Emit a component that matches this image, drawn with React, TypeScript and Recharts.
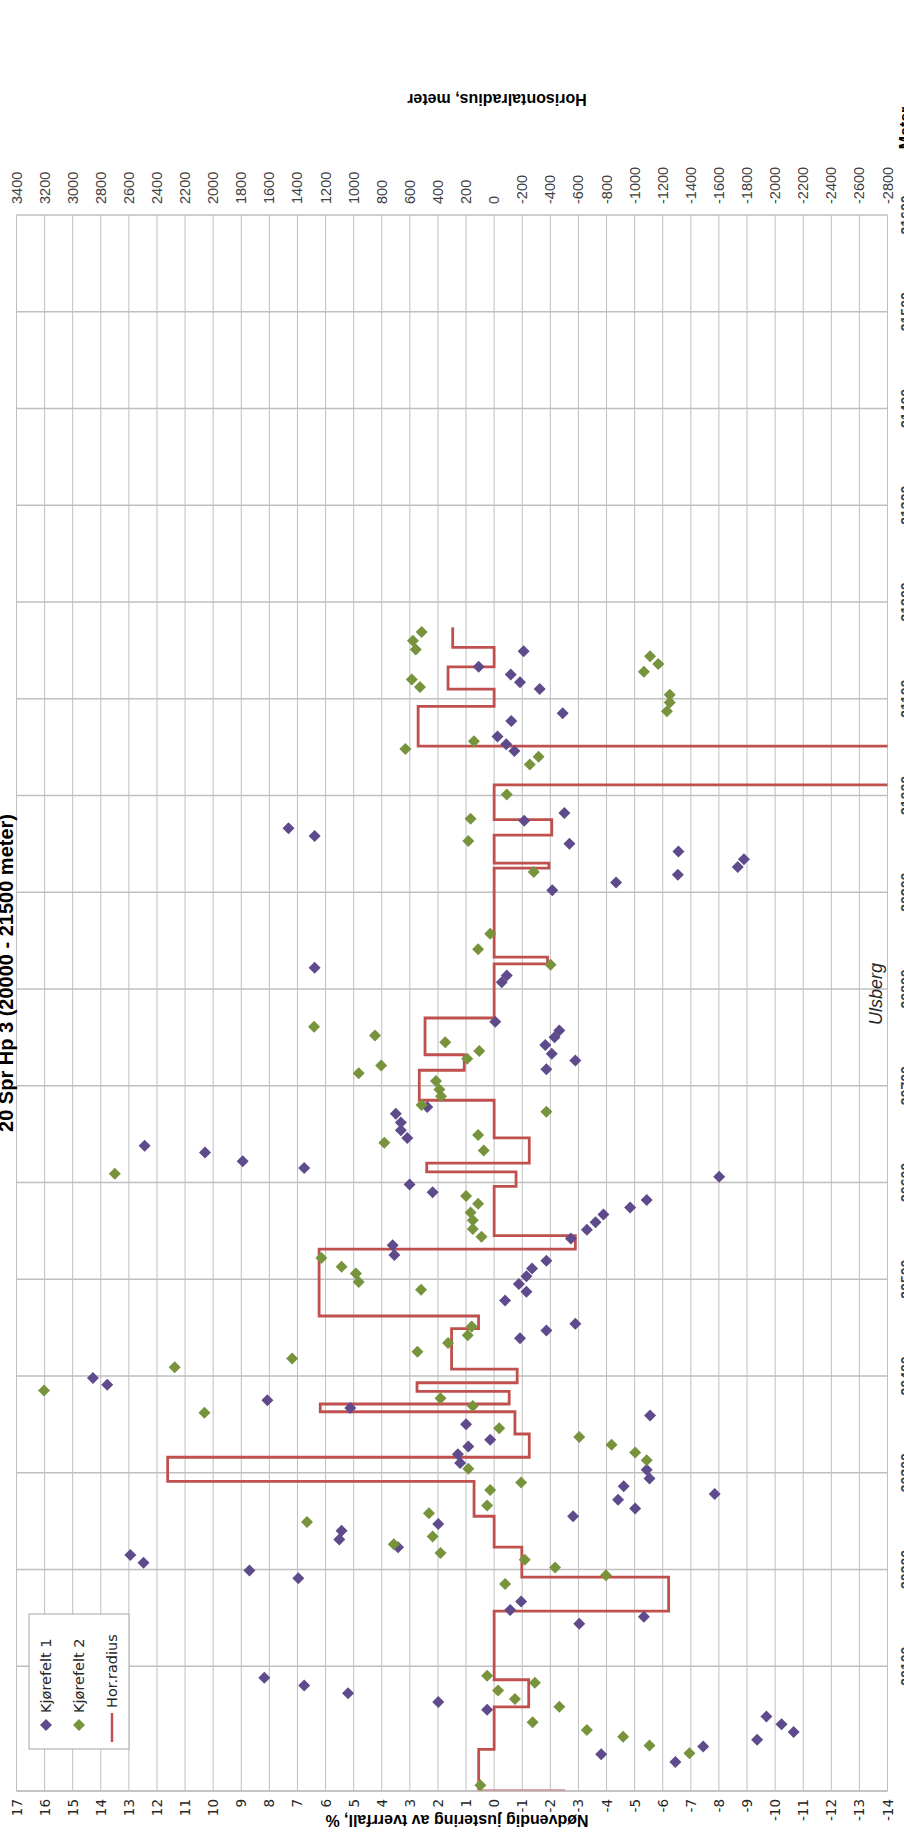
import React from 'react';
import {
  ComposedChart,
  Scatter,
  Line,
  XAxis,
  YAxis,
  CartesianGrid,
  Customized,
} from 'recharts';

// ---------- data ----------
// [meter, % adjustment]
const kjorefelt1: [number, number][] = [
  [21149, -1.05], [21133, 0.55], [21125, -0.59], [21117, -0.92], [21110, -1.62],
  [21085, -2.44], [21077, -0.61], [21061, -0.12], [21053, -0.43], [21046, -0.72],
  [20982, -2.5], [20974, -1.07], [20950, -2.68], [20966, 7.32], [20958, 6.39],
  [20942, -6.56], [20934, -8.89], [20926, -8.67],
  [20918, -6.54], [20910, -4.34], [20902, -2.07], [20822, 6.39], [20814, -0.45],
  [20807, -0.27], [20766, -0.04], [20757, -2.32], [20750, -2.15], [20742, -1.82],
  [20733, -2.05], [20726, -2.89], [20717, -1.86], [20678, 2.38], [20671, 3.5],
  [20662, 3.32], [20654, 3.32], [20646, 3.09], [20638, 12.44], [20631, 10.29],
  [20622, 8.95], [20615, 6.76], [20606, -8.01], [20598, 3.01], [20590, 2.19],
  [20582, -5.43], [20574, -4.84], [20567, -3.89], [20559, -3.61], [20551, -3.3],
  [20542, -2.73], [20535, 3.61], [20525, 3.55], [20519, -1.86], [20511, -1.35],
  [20503, -1.15], [20495, -0.88], [20487, -1.15], [20478, -0.39], [20454, -2.89],
  [20447, -1.86], [20439, -0.92], [20398, 14.28], [20391, 13.77], [20375, 8.07],
  [20367, 5.12], [20359, -5.55],
  [20350, 1.0], [20334, 0.14], [20327, 0.92], [20319, 1.29], [20310, 1.21],
  [20303, -5.43], [20294, -5.53], [20286, -4.61], [20278, -7.85], [20272, -4.41],
  [20263, -5.02], [20255, -2.81], [20247, 1.99], [20240, 5.43], [20231, 5.51],
  [20223, 3.42], [20215, 12.95], [20207, 12.48], [20199, 8.71], [20191, 6.97],
  [20167, -0.96], [20158, -0.57], [20144, -3.03], [20151, -5.33],
  [20088, 8.18], [20080, 6.76], [20072, 5.2], [20063, 1.99], [20055, 0.25],
  [20048, -9.69], [20040, -10.23], [20032, -10.66], [20024, -9.36], [20017, -7.44],
  [20009, -3.81], [20001, -6.45],
];

const kjorefelt2: [number, number][] = [
  [21169, 2.58], [21160, 2.89], [21151, 2.79], [21120, 2.93], [21112, 2.64],
  [21144, -5.55], [21136, -5.84], [21128, -5.33], [21104, -6.25], [21096, -6.25],
  [21087, -6.15], [21048, 3.16], [21056, 0.72], [21040, -1.58], [21032, -1.27],
  [21001, -0.45], [20976, 0.84], [20953, 0.92],
  [20921, -1.41], [20857, 0.14], [20841, 0.57], [20825, -2.01], [20761, 6.41],
  [20752, 4.24], [20745, 1.74], [20736, 0.53], [20728, 0.96], [20721, 4.02],
  [20713, 4.82], [20705, 2.07], [20696, 1.95], [20689, 1.89], [20680, 2.58],
  [20673, -1.86], [20649, 0.57], [20641, 3.91],
  [20633, 0.37], [20609, 13.5], [20586, 1.0], [20578, 0.57], [20569, 0.84],
  [20561, 0.76], [20552, 0.76], [20544, 0.45], [20522, 6.15], [20513, 5.43],
  [20506, 4.92], [20497, 4.82], [20489, 2.6], [20451, 0.8], [20442, 0.94],
  [20434, 1.64], [20425, 2.73], [20418, 7.19], [20409, 11.37], [20385, 16.02],
  [20377, 1.91], [20369, 0.76], [20362, 10.31],
  [20346, -0.18], [20337, -3.03], [20329, -4.18], [20321, -5.02], [20313, -5.43],
  [20304, 0.92], [20290, -0.96], [20282, 0.14], [20266, 0.25], [20258, 2.32],
  [20249, 6.66], [20234, 2.19], [20226, 3.57], [20217, 1.91], [20210, -1.09],
  [20202, -2.17], [20194, -3.98], [20185, -0.39],
  [20090, 0.25], [20083, -1.45], [20075, -0.14], [20066, -0.74], [20058, -2.32],
  [20042, -1.37], [20034, -3.3], [20027, -4.59], [20018, -5.53], [20010, -6.95],
  [19977, 0.49],
];

// [meter where radius segment starts, horizontal radius (m)]
const horRadius: [number, number][] = [
  [19971, -504], [19971, 110], [20014, 0], [20058, -246], [20086, 0],
  [20157, -1242], [20192, -197], [20223, 0], [20255, 143], [20291, 2324],
  [20316, -250], [20340, -148], [20363, 1238], [20371, -107], [20384, 549],
  [20393, -164], [20407, 303], [20449, 111], [20462, 1246], [20531, -578],
  [20545, 0], [20596, -156], [20611, 480], [20620, -250], [20646, 0],
  [20685, 533], [20716, 213], [20732, 492], [20770, 0], [20826, -380],
  [20833, 0], [20925, -390], [20930, 0], [20959, -410], [20975, 0],
  [21011, -3500], [21051, 541], [21092, 0], [21110, 328], [21133, 0],
  [21153, 295], [21174, 295],
];

const pctTicks = [17, 16, 15, 14, 13, 12, 11, 10, 9, 8, 7, 6, 5, 4, 3, 2, 1, 0, -1, -2, -3, -4, -5, -6, -7, -8, -9, -10, -11, -12, -13, -14];
const radiusTicks = [3400, 3200, 3000, 2800, 2600, 2400, 2200, 2000, 1800, 1600, 1400, 1200, 1000, 800, 600, 400, 200, 0, -200, -400, -600, -800, -1000, -1200, -1400, -1600, -1800, -2000, -2200, -2400, -2600, -2800];
const meterTicks = [20100, 20200, 20300, 20400, 20500, 20600, 20700, 20800, 20900, 21000, 21100, 21200, 21300, 21400, 21500, 21600];

const k1Data = kjorefelt1.map(([m, v]) => ({ m, v }));
const k2Data = kjorefelt2.map(([m, v]) => ({ m, v }));
const radiusData = horRadius.map(([m, r]) => ({ m, r }));

// ---------- styling ----------
const W = 904;
const H = 1842;
const PURPLE = '#5f4b8b';
const GREEN = '#77933c';
const RED = '#c0504d';
const GRID = '#bfbfbf';
const SANS = 'DejaVu Sans, sans-serif';
const NARROW = '"Liberation Sans Narrow", "Liberation Sans", sans-serif';
const BOLD = '"Liberation Sans", sans-serif';

const diamond = (color: string) => (props: any) => {
  const { cx, cy } = props;
  if (cx == null || cy == null) return <g />;
  const s = 6;
  return (
    <path
      d={`M${cx},${cy - s}L${cx + s},${cy}L${cx},${cy + s}L${cx - s},${cy}Z`}
      fill={color}
    />
  );
};

const PctTick = (props: any) => {
  const { x, payload } = props;
  const y = 1799;
  return (
    <text
      x={x}
      y={y}
      transform={`rotate(-90 ${x} ${y})`}
      textAnchor="end"
      dominantBaseline="central"
      fontFamily={SANS}
      fontSize={13.5}
      fill="#262626"
    >
      {payload.value}
    </text>
  );
};

const RadiusTick = (props: any) => {
  const { x, payload } = props;
  const y = 204;
  return (
    <text
      x={x}
      y={y}
      transform={`rotate(-90 ${x} ${y})`}
      textAnchor="start"
      dominantBaseline="central"
      fontFamily={NARROW}
      fontSize={14.5}
      fill="#404040"
    >
      {payload.value}
    </text>
  );
};

const MeterTick = (props: any) => {
  const { y, payload } = props;
  const x = 911;
  return (
    <text
      x={x}
      y={y}
      transform={`rotate(-90 ${x} ${y})`}
      textAnchor="middle"
      fontFamily={NARROW}
      fontSize={14}
      fontWeight="bold"
      fill="#404040"
    >
      {payload.value}
    </text>
  );
};

const Annotations = () => (
  <g>
    {/* chart title (rotated, partly cut off at the page edge) */}
    <text
      x={13}
      y={973}
      transform="rotate(-90 13 973)"
      textAnchor="middle"
      fontFamily={BOLD}
      fontWeight="bold"
      fontSize={20}
      fill="#000"
    >
      20 Spr  Hp 3 (20000 - 21500 meter)
    </text>
    {/* secondary axis title */}
    <text
      x={497}
      y={94}
      transform="rotate(180 497 94)"
      textAnchor="middle"
      fontFamily={BOLD}
      fontWeight="bold"
      fontSize={16}
      fill="#000"
    >
      Horisontalradius, meter
    </text>
    {/* primary axis title */}
    <text
      x={457}
      y={1815}
      transform="rotate(180 457 1815)"
      textAnchor="middle"
      fontFamily={BOLD}
      fontWeight="bold"
      fontSize={16}
      fill="#000"
    >
      Nødvendig justering av tverrfall, %
    </text>
    {/* meter axis title (cut off at the page edge) */}
    <text
      x={911}
      y={128}
      transform="rotate(-90 911 128)"
      textAnchor="middle"
      fontFamily={BOLD}
      fontWeight="bold"
      fontSize={16}
      fill="#000"
    >
      Meter
    </text>
    {/* place label */}
    <text
      x={882}
      y={994}
      transform="rotate(-90 882 994)"
      textAnchor="middle"
      fontFamily={BOLD}
      fontStyle="italic"
      fontSize={18}
      fill="#262626"
    >
      Ulsberg
    </text>
    {/* legend */}
    <rect x={29} y={1614} width={100} height={135} fill="#fff" stroke="#a6a6a6" strokeWidth={1} />
    <path d="M46,1719L52,1725L46,1731L40,1725Z" fill={PURPLE} />
    <text x={46} y={1713} transform="rotate(-90 46 1713)" textAnchor="start" dominantBaseline="central" fontFamily={SANS} fontSize={14.5} fill="#262626">
      Kjørefelt 1
    </text>
    <path d="M79,1719L85,1725L79,1731L73,1725Z" fill={GREEN} />
    <text x={79} y={1713} transform="rotate(-90 79 1713)" textAnchor="start" dominantBaseline="central" fontFamily={SANS} fontSize={14.5} fill="#262626">
      Kjørefelt 2
    </text>
    <line x1={112} y1={1713} x2={112} y2={1742} stroke={RED} strokeWidth={2.5} />
    <text x={112} y={1708} transform="rotate(-90 112 1708)" textAnchor="start" dominantBaseline="central" fontFamily={SANS} fontSize={14.5} fill="#262626">
      Hor.radius
    </text>
  </g>
);

export default function App() {
  return (
    <div
      style={{
        position: 'absolute',
        left: 0,
        top: 0,
        width: W,
        height: H,
        overflow: 'hidden',
        background: '#fff',
      }}
    >
      <ComposedChart
        width={W}
        height={H}
        layout="vertical"
        margin={{ top: 0, right: 0, bottom: 0, left: 16.5 }}
      >
        <CartesianGrid
          xAxisId="pct"
          yAxisId="m"
          horizontal={false}
          vertical={true}
          stroke={GRID}
          strokeWidth={1}
        />
        <CartesianGrid
          xAxisId="pct"
          yAxisId="m"
          horizontal={true}
          vertical={false}
          stroke={GRID}
          strokeWidth={1.5}
        />
        <XAxis
          xAxisId="pct"
          type="number"
          dataKey="v"
          orientation="bottom"
          domain={[-14, 17]}
          ticks={pctTicks}
          reversed
          allowDataOverflow
          interval={0}
          height={51}
          axisLine={{ stroke: GRID, strokeWidth: 1.5 }}
          tickLine={false}
          tick={<PctTick />}
        />
        <XAxis
          xAxisId="rad"
          type="number"
          dataKey="r"
          orientation="top"
          domain={[-2800, 3400]}
          ticks={radiusTicks}
          reversed
          allowDataOverflow
          interval={0}
          height={215}
          axisLine={false}
          tickLine={false}
          tick={<RadiusTick />}
        />
        <YAxis
          yAxisId="m"
          type="number"
          dataKey="m"
          orientation="right"
          domain={[19971, 21600]}
          ticks={meterTicks}
          reversed
          allowDataOverflow
          interval={0}
          width={16.5}
          axisLine={false}
          tickLine={false}
          tick={<MeterTick />}
        />
        <Line
          data={radiusData}
          xAxisId="rad"
          yAxisId="m"
          dataKey="r"
          type="stepBefore"
          stroke={RED}
          strokeWidth={2.8}
          dot={false}
          activeDot={false}
          isAnimationActive={false}
        />
        <Scatter
          data={k1Data}
          xAxisId="pct"
          yAxisId="m"
          fill={PURPLE}
          shape={diamond(PURPLE)}
          isAnimationActive={false}
        />
        <Scatter
          data={k2Data}
          xAxisId="pct"
          yAxisId="m"
          fill={GREEN}
          shape={diamond(GREEN)}
          isAnimationActive={false}
        />
        <Customized component={Annotations} />
      </ComposedChart>
    </div>
  );
}
